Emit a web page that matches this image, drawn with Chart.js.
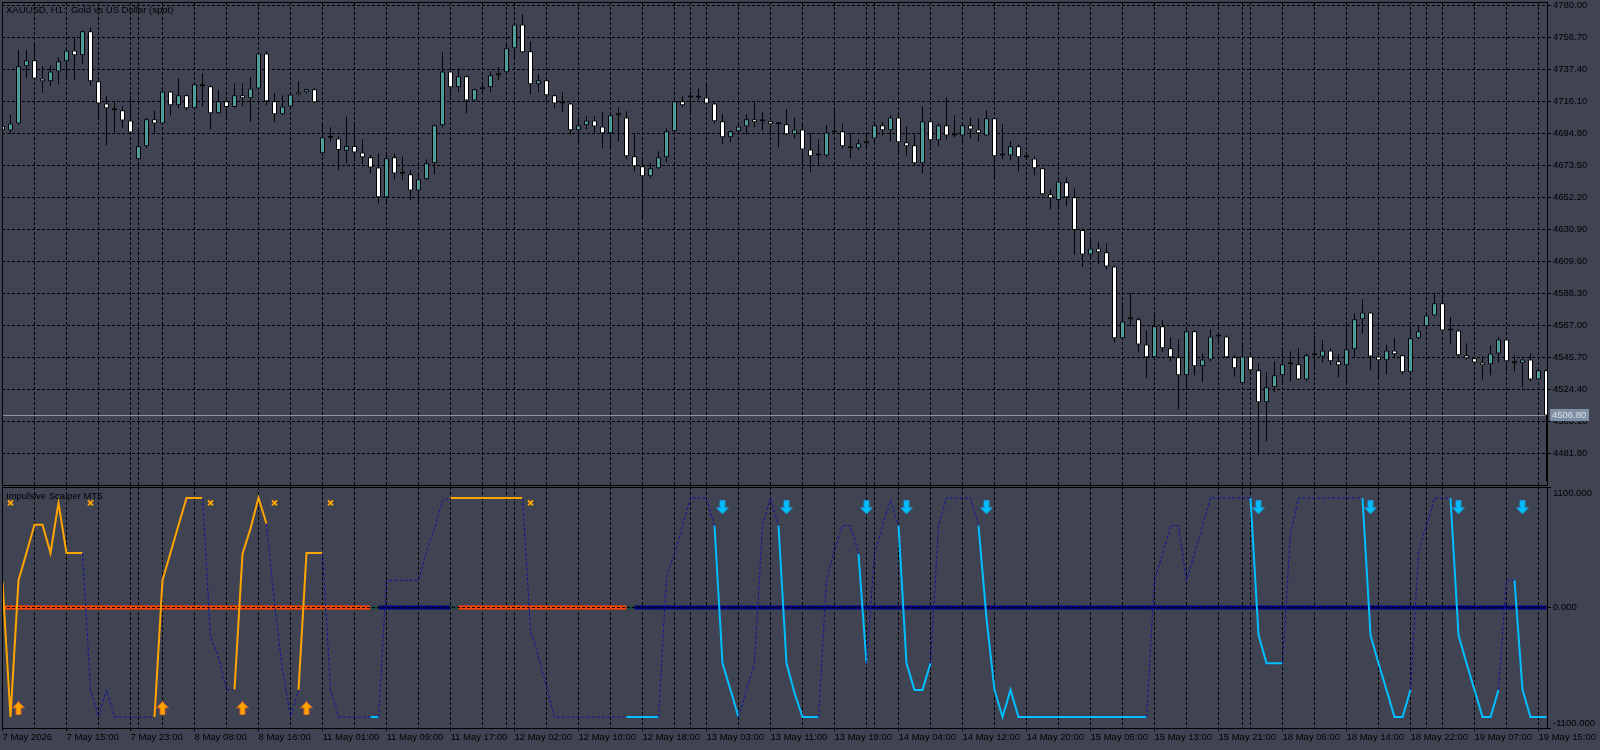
<!DOCTYPE html>
<html>
<head>
<meta charset="utf-8">
<script src="https://cdn.jsdelivr.net/npm/chart.js@4.4.1/dist/chart.umd.min.js"></script>
<style>
  html, body { margin: 0; padding: 0; background: #404352; width: 1600px; height: 750px; overflow: hidden; }
  canvas { position: absolute; left: 0; }
  #price { top: 0; }
  #osc { top: 486px; }
</style>
</head>
<body>
<canvas id="price" width="1600" height="486"></canvas>
<canvas id="osc" width="1600" height="264"></canvas>
<script>
// XAUUSD H1 candles, one per bar (index 0 = 7 May 07:00)
const opens = [
  4699.5,4696.4,4701.2,4739.2,4743.2,4731.0,4729.2,4735.8,4742.5,4749.8,
  4746.5,4762.5,4729.2,4714.5,4711.2,4709.9,4703.2,4677.3,4685.9,4703.9,
  4701.2,4722.5,4713.2,4719.9,4711.2,4727.2,4725.9,4707.9,4715.9,4712.1,
  4719.9,4717.9,4724.5,4747.8,4715.9,4707.2,4712.5,4721.9,4721.9,4723.9,
  4681.3,4691.7,4691.2,4683.0,4686.1,4681.9,4678.6,4671.9,4652.0,4678.6,
  4667.7,4667.3,4656.6,4664.0,4674.6,4699.9,4735.8,4725.2,4732.5,4716.5,
  4723.9,4725.2,4733.2,4735.2,4751.2,4767.1,4749.2,4727.2,4729.9,4719.9,
  4714.5,4714.5,4696.6,4699.9,4703.2,4699.2,4694.6,4706.6,4705.2,4679.3,
  4672.6,4666.0,4671.3,4678.6,4695.9,4715.9,4718.5,4718.5,4718.5,4714.5,
  4702.6,4691.9,4695.9,4699.2,4703.9,4702.6,4702.6,4700.6,4700.6,4693.9,
  4697.2,4683.9,4679.9,4679.9,4695.2,4695.9,4685.9,4684.6,4687.9,4691.2,
  4699.9,4696.6,4705.2,4688.6,4686.6,4674.6,4702.6,4689.9,4699.9,4693.2,
  4693.2,4699.9,4697.2,4693.2,4704.6,4679.9,4679.9,4685.9,4678.6,4677.9,
  4671.3,4654.0,4650.2,4662.0,4652.0,4630.2,4614.0,4618.0,4615.4,4606.0,
  4558.1,4570.8,4570.8,4554.1,4545.5,4566.1,4551.5,4545.5,4533.5,4562.8,
  4539.5,4544.1,4559.4,4559.4,4545.5,4528.2,4546.1,4536.8,4515.5,4525.5,
  4533.5,4540.8,4540.8,4530.8,4546.8,4546.1,4550.1,4542.8,4540.2,4550.8,
  4570.8,4575.4,4546.1,4543.5,4550.1,4546.8,4535.5,4558.1,4566.1,4573.4,
  4581.4,4563.4,4563.4,4546.8,4544.8,4542.1,4540.8,4548.1,4557.4,4542.8,
  4541.5,4544.1,4530.8,4536.8
];
const highs = [
  4700.5,4706.8,4750.0,4750.0,4754.0,4739.2,4739.8,4745.2,4751.8,4758.5,
  4763.0,4765.1,4729.5,4719.2,4715.9,4712.5,4719.2,4697.9,4705.2,4709.4,
  4723.0,4723.0,4731.2,4720.5,4727.5,4734.5,4726.3,4723.2,4716.3,4727.9,
  4727.9,4731.9,4748.2,4749.2,4721.2,4719.9,4721.0,4729.2,4724.2,4724.5,
  4701.9,4698.6,4692.8,4705.7,4702.3,4690.6,4680.2,4681.3,4681.3,4681.3,
  4679.0,4670.2,4668.0,4677.3,4700.5,4748.5,4736.2,4737.8,4733.0,4724.3,
  4727.9,4735.8,4738.5,4755.1,4767.5,4773.8,4755.8,4733.9,4731.2,4720.3,
  4721.9,4715.0,4705.9,4705.9,4705.9,4708.6,4708.6,4711.9,4709.2,4694.6,
  4677.3,4674.6,4682.6,4697.9,4716.3,4719.2,4722.5,4724.5,4727.9,4715.9,
  4707.2,4696.3,4699.9,4707.2,4715.9,4708.6,4703.0,4701.9,4710.6,4705.2,
  4701.9,4694.6,4690.6,4699.9,4709.9,4701.2,4694.6,4690.6,4694.6,4702.6,
  4701.9,4706.6,4706.6,4699.2,4693.9,4712.5,4703.0,4701.2,4718.5,4706.6,
  4700.3,4705.2,4704.6,4709.9,4705.0,4700.6,4689.3,4687.3,4679.3,4679.3,
  4671.8,4657.3,4663.0,4665.3,4657.9,4631.3,4623.6,4622.0,4621.4,4606.3,
  4582.1,4588.1,4572.1,4563.4,4574.1,4570.1,4558.8,4557.5,4563.4,4563.4,
  4548.1,4564.1,4562.1,4560.1,4546.8,4554.8,4546.5,4541.5,4535.5,4542.8,
  4550.1,4549.5,4551.5,4548.1,4559.4,4556.8,4551.5,4547.5,4566.8,4574.8,
  4584.1,4575.8,4546.5,4554.1,4558.1,4547.2,4566.1,4566.8,4574.8,4588.7,
  4590.1,4572.1,4563.8,4554.8,4546.1,4546.1,4553.5,4558.8,4558.8,4546.8,
  4544.5,4548.1,4537.5,4537.0
];
const lows = [
  4696.0,4694.6,4700.5,4731.6,4730.5,4721.6,4726.3,4727.2,4732.3,4730.3,
  4740.5,4726.3,4703.4,4686.8,4695.2,4697.9,4694.6,4676.5,4684.6,4693.9,
  4700.5,4706.6,4711.2,4710.1,4710.1,4712.5,4697.2,4707.2,4705.9,4711.2,
  4712.8,4702.3,4724.0,4713.2,4701.9,4706.6,4712.0,4720.0,4721.3,4714.6,
  4679.5,4689.0,4670.2,4674.6,4676.2,4674.2,4668.0,4648.0,4648.5,4664.0,
  4663.5,4650.0,4649.0,4663.5,4667.3,4698.4,4719.0,4721.9,4707.9,4715.7,
  4720.5,4721.9,4729.9,4734.8,4744.5,4748.0,4720.5,4721.9,4716.5,4711.2,
  4708.6,4693.9,4687.9,4697.2,4693.9,4684.6,4684.6,4689.3,4677.3,4669.3,
  4637.5,4664.6,4670.8,4675.3,4695.5,4711.9,4708.6,4716.8,4714.0,4701.2,
  4687.3,4688.6,4694.6,4693.9,4698.6,4696.6,4693.2,4685.3,4693.2,4691.2,
  4674.6,4668.7,4672.6,4678.6,4694.6,4684.6,4677.9,4683.3,4684.6,4688.6,
  4693.2,4689.3,4681.3,4679.9,4673.3,4668.0,4685.9,4685.9,4690.6,4691.9,
  4688.6,4691.2,4689.3,4692.8,4664.6,4677.3,4676.6,4669.3,4677.3,4666.6,
  4653.5,4644.0,4644.7,4646.2,4613.6,4605.8,4610.3,4607.4,4604.0,4555.5,
  4557.8,4566.1,4548.8,4531.5,4545.0,4548.8,4542.8,4510.9,4524.2,4533.5,
  4529.3,4542.8,4554.8,4544.8,4532.6,4527.8,4534.8,4480.2,4489.6,4522.2,
  4528.2,4529.5,4530.2,4529.5,4536.8,4542.1,4540.2,4532.2,4528.2,4544.8,
  4561.4,4536.8,4531.5,4534.2,4544.8,4534.2,4535.0,4557.4,4565.4,4573.0,
  4562.8,4554.1,4546.1,4544.1,4540.2,4530.8,4533.5,4542.1,4536.2,4536.2,
  4525.5,4529.5,4530.2,4463.0
];
const closes = [
  4697.0,4701.2,4739.2,4743.2,4731.0,4729.2,4735.8,4742.5,4749.8,4746.5,
  4762.5,4729.2,4714.5,4711.2,4709.9,4703.2,4695.2,4685.9,4703.9,4701.2,
  4722.5,4713.2,4719.9,4711.2,4727.2,4725.9,4707.9,4715.9,4712.1,4719.9,
  4717.9,4724.5,4747.8,4715.9,4707.2,4712.5,4720.5,4720.5,4723.9,4715.2,
  4691.9,4691.7,4683.5,4686.1,4681.9,4678.6,4671.9,4652.0,4678.0,4667.9,
  4667.7,4656.6,4664.0,4674.6,4699.9,4735.8,4725.2,4732.5,4716.5,4723.9,
  4725.2,4733.2,4734.5,4751.2,4767.1,4748.5,4727.2,4729.9,4719.9,4714.5,
  4714.5,4696.6,4699.9,4703.2,4699.2,4694.6,4706.6,4706.6,4679.3,4672.6,
  4666.0,4671.3,4678.6,4695.9,4715.9,4713.2,4718.5,4718.5,4714.5,4702.6,
  4691.9,4695.9,4699.2,4703.9,4701.9,4702.6,4700.6,4700.6,4693.9,4697.2,
  4683.9,4679.3,4679.9,4695.2,4695.2,4685.9,4684.6,4687.9,4687.9,4699.9,
  4696.6,4705.2,4688.6,4685.9,4674.6,4702.6,4689.9,4699.9,4693.2,4693.2,
  4699.9,4697.2,4694.6,4704.6,4679.3,4679.9,4685.9,4678.6,4678.6,4671.3,
  4654.0,4651.3,4662.6,4652.0,4630.2,4614.0,4618.0,4615.4,4606.0,4558.1,
  4569.4,4570.8,4554.1,4545.5,4566.1,4551.5,4545.5,4533.5,4562.8,4539.5,
  4544.1,4559.4,4559.4,4545.5,4538.2,4546.1,4536.8,4515.5,4525.5,4533.5,
  4540.8,4540.8,4530.8,4546.8,4546.8,4550.1,4542.8,4540.2,4550.8,4570.8,
  4575.4,4546.1,4543.5,4550.1,4547.5,4535.5,4558.1,4562.8,4573.4,4581.4,
  4563.4,4563.4,4546.8,4544.8,4542.1,4540.2,4548.1,4557.4,4542.8,4541.5,
  4544.1,4530.8,4536.8,4506.8
];

// Impulsive Scalper oscillator, one value per bar
const oscValues = [
  233,-1000,248,500,755,755,497,955,497,497,
  497,-752,-994,-752,-1000,-1000,-1000,-1000,-1000,-1000,
  248,500,750,1000,1000,1000,-267,-450,-750,-750,
  490,720,1000,765,36,-570,-994,-752,497,497,
  497,-750,-1000,-1000,-1000,-1000,-1000,-1000,248,248,
  248,248,248,520,718,975,1000,1000,1000,1000,
  1000,1000,1000,1000,1000,1000,-206,-448,-721,-1000,
  -1000,-1000,-1000,-1000,-1000,-1000,-1000,-1000,-1000,-1000,
  -1000,-1000,-1000,279,490,748,1000,1000,1000,748,
  -509,-752,-1000,-752,-509,748,1000,748,-509,-780,
  -1000,-1000,-1000,248,521,748,748,490,-509,490,
  748,975,748,-509,-752,-752,-509,748,1000,1000,
  1000,1000,748,-100,-752,-1000,-752,-1000,-1000,-1000,
  -1000,-1000,-1000,-1000,-1000,-1000,-1000,-1000,-1000,-1000,
  -1000,-1000,-1000,-1000,248,490,748,748,248,490,
  750,1000,1000,1000,1000,1000,1000,-250,-509,-509,
  -509,672,1000,1000,1000,1000,1000,1000,1000,1000,
  1000,-251,-509,-752,-1000,-1000,-752,506,748,1000,
  1000,1000,-251,-509,-752,-1000,-1000,-752,248,248,
  -752,-1000,-1000,-1000
];
// bar ranges where the oscillator is drawn as buy (orange) / sell (sky blue)
const buyRuns = [[0,10],[19,25],[29,33],[37,40],[56,65]];
const sellRuns = [[46,47],[78,82],[89,92],[97,102],[107,108],[112,116],[122,143],[156,160],[170,176],[181,187],[189,193]];
// zero line trend state: 1 = buy, -1 = sell
const trendRuns = [[0,46,1],[47,56,-1],[57,78,1],[79,193,-1]];
const upArrowBars = [2,20,30,38];
const downArrowBars = [90,98,108,113,123,157,171,182,190];
const exitBars = [1,11,26,34,41,66];

const priceTicks = [4780.0,4758.7,4737.4,4716.1,4694.8,4673.5,4652.2,4630.9,4609.6,4588.3,4567.0,4545.7,4524.4,4503.1,4481.8];
const oscTicks = [1100, 0, -1100];
const timeLabels = [
  '7 May 2026','7 May 15:00','7 May 23:00','8 May 08:00','8 May 16:00',
  '11 May 01:00','11 May 09:00','11 May 17:00','12 May 02:00','12 May 10:00',
  '12 May 18:00','13 May 03:00','13 May 11:00','13 May 19:00','14 May 04:00',
  '14 May 12:00','14 May 20:00','15 May 05:00','15 May 13:00','15 May 21:00',
  '18 May 06:00','18 May 14:00','18 May 22:00','19 May 07:00','19 May 15:00'
];
const daySeparators = [17,40,63,86,109,132,155,178];

// look
const FONT = "'Liberation Sans', Arial, sans-serif";
const BULL = '#4f9c9c', BEAR = '#ffffff';
const ORANGE = '#ffa500', SKY = '#00bfff', NAVY = '#14149e';
const X_MIN = -0.0625, X_MAX = 193.0625;

Chart.defaults.font.family = FONT;
Chart.defaults.font.size = 9.5;
Chart.defaults.color = '#000';

function gridTicks(scale) {
  const set = new Set(daySeparators);
  for (let k = 0; k < opens.length; k += 4) set.add(k);
  scale.ticks = [...set].sort((a, b) => a - b).map(v => ({ value: v }));
}
// keep the chart area where we put it, no room kept for edge labels
function noScalePadding(s) {
  s.paddingTop = 0; s.paddingBottom = 0; s.paddingLeft = 0; s.paddingRight = 0;
}

const framePlugin = {
  id: 'frame',
  afterDraw(chart, args, opts) {
    const { ctx, chartArea: a } = chart;
    ctx.save();
    ctx.strokeStyle = '#000';
    ctx.lineWidth = 1;
    ctx.beginPath();
    ctx.moveTo(a.left + 0.5, a.bottom);
    ctx.lineTo(a.left + 0.5, a.top + 0.5);
    ctx.lineTo(a.right, a.top + 0.5);
    ctx.stroke();
    ctx.font = '9.5px ' + FONT;
    ctx.fillStyle = '#000';
    ctx.textBaseline = 'middle';
    ctx.fillText(opts.title, a.left + 4, a.top + opts.dy);
    ctx.restore();
  }
};

// current price line + tag
const pricePlugin = {
  id: 'lastPrice',
  beforeDatasetsDraw(chart) {
    const { ctx, chartArea: a } = chart;
    const y = Math.round(chart.scales.y.getPixelForValue(closes[closes.length - 1])) + 0.5;
    ctx.save();
    ctx.strokeStyle = '#8c98a8';
    ctx.beginPath(); ctx.moveTo(a.left, y); ctx.lineTo(a.right, y); ctx.stroke();
    ctx.restore();
  },
  afterDraw(chart) {
    const { ctx, chartArea: a } = chart;
    const last = closes[closes.length - 1];
    const y = Math.round(chart.scales.y.getPixelForValue(last));
    ctx.save();
    ctx.fillStyle = '#7f90a4';
    ctx.fillRect(a.right + 3, y - 6, 39, 12);
    ctx.font = '9.5px ' + FONT;
    ctx.fillStyle = '#d8e0ea';
    ctx.textBaseline = 'middle';
    ctx.fillText(last.toFixed(2), a.right + 5, y);
    ctx.restore();
  }
};

const oscLabelPlugin = {
  id: 'oscLabels',
  afterDraw(chart) {
    const { ctx } = chart;
    const s = chart.scales.y;
    ctx.save();
    ctx.font = '9.5px ' + FONT;
    ctx.fillStyle = '#000';
    ctx.textBaseline = 'middle';
    oscTicks.forEach(v => {
      const py = Math.min(Math.max(s.getPixelForValue(v), s.top + 6), s.bottom - 5);
      ctx.fillText(v.toFixed(3), s.left + 6, py);
    });
    ctx.restore();
  }
};

// price chart
new Chart(document.getElementById('price'), {
  type: 'bar',
  data: {
    datasets: [
      {
        label: 'wick',
        data: opens.map((o, k) => ({ x: k, y: [lows[k], highs[k]] })),
        backgroundColor: '#000',
        grouped: false,
        maxBarThickness: 1,
        minBarLength: 1,
        order: 2
      },
      {
        label: 'body',
        data: opens.map((o, k) => ({ x: k, y: [Math.min(o, closes[k]), Math.max(o, closes[k])] })),
        backgroundColor: c => closes[c.dataIndex] > opens[c.dataIndex] ? BULL : BEAR,
        borderColor: '#000',
        borderWidth: 1,
        borderSkipped: false,
        grouped: false,
        maxBarThickness: 5,
        minBarLength: 2,
        order: 1
      }
    ]
  },
  options: {
    responsive: false,
    animation: false,
    devicePixelRatio: 1,
    events: [],
    layout: { autoPadding: false, padding: { left: 2, top: 2, right: 0, bottom: 1 } },
    plugins: {
      legend: { display: false },
      tooltip: { enabled: false },
      frame: { title: 'XAUUSD, H1:  Gold vs US Dollar (spot)', dy: 8 }
    },
    scales: {
      x: {
        type: 'linear', min: X_MIN, max: X_MAX, offset: false, bounds: 'data',
        afterBuildTicks: gridTicks,
        afterFit: s => { s.height = 0; noScalePadding(s); },
        ticks: { display: false, autoSkip: false },
        grid: { color: '#000', drawTicks: false, offset: false },
        border: { color: '#000', dash: [3, 2] }
      },
      y: {
        position: 'right', min: 4460.5, max: 4782.0, bounds: 'data', beginAtZero: false,
        afterBuildTicks: s => { s.ticks = priceTicks.map(v => ({ value: v })); },
        afterFit: s => { s.width = 53; noScalePadding(s); },
        ticks: { callback: v => v.toFixed(2), padding: 2, autoSkip: false },
        grid: { color: '#000', tickLength: 4, tickColor: '#000' },
        border: { color: '#000', dash: [3, 2] }
      }
    }
  },
  plugins: [pricePlugin, framePlugin]
});

// arrow glyphs for signals
function arrowGlyph(fill, edge, up) {
  const c = document.createElement('canvas');
  c.width = 13; c.height = 14;
  const g = c.getContext('2d');
  if (!up) { g.translate(0, 14); g.scale(1, -1); }
  g.beginPath();
  g.moveTo(6.5, 0.5); g.lineTo(12.5, 6.5); g.lineTo(9, 6.5); g.lineTo(9, 13.5);
  g.lineTo(4, 13.5); g.lineTo(4, 6.5); g.lineTo(0.5, 6.5); g.closePath();
  g.fillStyle = fill; g.fill();
  g.strokeStyle = edge; g.lineWidth = 1; g.stroke();
  return c;
}

const phaseOf = i => buyRuns.some(([a, b]) => i >= a && i < b) ? 'buy'
  : sellRuns.some(([a, b]) => i >= a && i < b) ? 'sell' : 'none';
const trendColor = c => {
  const a = c.p0.parsed.x, b = c.p1.parsed.x;
  const run = trendRuns.find(r => a >= r[0] && b <= r[1]);
  return run ? (run[2] > 0 ? '#ff4500' : '#00007e') : '#1c4a44';
};

// oscillator chart
new Chart(document.getElementById('osc'), {
  type: 'line',
  data: {
    datasets: [
      {
        label: 'trend',
        data: trendRuns.flatMap(([a, b]) => [{ x: a, y: 0 }, { x: b, y: 0 }]),
        borderWidth: 4, borderColor: '#00007e', pointRadius: 0,
        segment: { borderColor: trendColor },
        order: 5
      },
      {
        label: 'level',
        data: [{ x: X_MIN, y: 0 }, { x: X_MAX, y: 0 }],
        borderWidth: 1, borderColor: '#000', borderDash: [3, 2], pointRadius: 0,
        order: 4
      },
      {
        label: 'Impulsive Scalper',
        data: oscValues.map((v, k) => ({ x: k, y: v })),
        borderWidth: 2, borderColor: NAVY, pointRadius: 0, tension: 0,
        segment: {
          borderColor: c => ({ buy: ORANGE, sell: SKY, none: NAVY })[phaseOf(c.p0DataIndex)],
          borderWidth: c => phaseOf(c.p0DataIndex) === 'none' ? 1 : 2,
          borderDash: c => phaseOf(c.p0DataIndex) === 'none' ? [3, 2] : []
        },
        order: 3
      },
      {
        label: 'buy',
        data: upArrowBars.map(k => ({ x: k, y: -920 })),
        showLine: false, pointRadius: 6,
        pointStyle: arrowGlyph(ORANGE, '#d8642c', true),
        order: 1
      },
      {
        label: 'sell',
        data: downArrowBars.map(k => ({ x: k, y: 915 })),
        showLine: false, pointRadius: 6,
        pointStyle: arrowGlyph(SKY, '#1a9ad8', false),
        order: 1
      },
      {
        label: 'exit',
        data: exitBars.map(k => ({ x: k, y: 955 })),
        showLine: false, pointRadius: 3.5, pointStyle: 'crossRot',
        pointBorderColor: ORANGE, pointBorderWidth: 2,
        order: 1
      }
    ]
  },
  options: {
    responsive: false,
    animation: false,
    devicePixelRatio: 1,
    events: [],
    layout: { autoPadding: false, padding: { left: 2, top: 1, right: 0, bottom: 0 } },
    plugins: {
      legend: { display: false },
      tooltip: { enabled: false },
      frame: { title: 'Impulsive Scalper MT5', dy: 9 }
    },
    scales: {
      x: {
        type: 'linear', min: X_MIN, max: X_MAX, offset: false, bounds: 'data',
        afterBuildTicks: gridTicks,
        afterFit: s => { s.height = 22; noScalePadding(s); },
        ticks: {
          autoSkip: false, maxRotation: 0, minRotation: 0, align: 'start', padding: 1,
          callback: v => (v % 8 === 0 ? timeLabels[v / 8] : '')
        },
        grid: {
          color: '#000', offset: false, tickLength: 3,
          tickColor: c => (c.tick && c.tick.value % 8 === 0 ? '#000' : 'rgba(0,0,0,0)')
        },
        border: { color: '#000', dash: [3, 2] }
      },
      y: {
        position: 'right', min: -1100, max: 1100, bounds: 'data',
        afterBuildTicks: s => { s.ticks = oscTicks.map(v => ({ value: v })); },
        afterFit: s => { s.width = 53; noScalePadding(s); },
        ticks: { display: false },
        grid: { drawOnChartArea: false, tickLength: 4, tickColor: '#000' },
        border: { color: '#000' }
      }
    }
  },
  plugins: [oscLabelPlugin, framePlugin]
});
</script>
</body>
</html>
